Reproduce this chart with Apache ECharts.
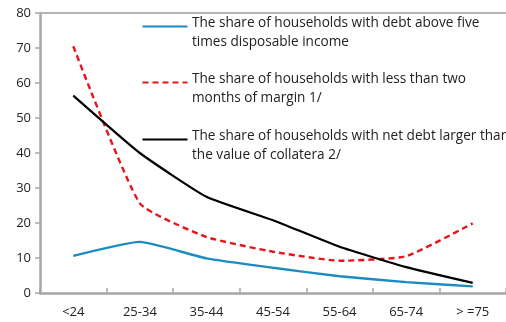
<!DOCTYPE html>
<html>
<head>
<meta charset="utf-8">
<script src="https://cdn.jsdelivr.net/npm/echarts@6/dist/echarts.min.js"></script>
<style>html,body{margin:0;padding:0;background:#fff;}#c{width:506px;height:322px;}</style>
</head>
<body>
<div id="c"></div>
<script>
// Age groups of the household head
const ageGroups = ['<24', '25-34', '35-44', '45-54', '55-64', '65-74', '> =75'];
// Shares of households, per cent
const debtOverFiveTimesIncome = [10.6, 14.6, 9.9, 7.2, 4.8, 3.1, 1.9];
const lessThanTwoMonthsMargin = [70.5, 25.6, 16.0, 11.8, 9.2, 10.5, 19.9];
const netDebtOverCollateral = [56.4, 40.0, 27.5, 20.8, 13.2, 7.4, 2.9];
const yTicks = [0, 10, 20, 30, 40, 50, 60, 70, 80];

const legendText = [
  'The share of households with debt above five\ntimes disposable income',
  'The share of households with less than two\nmonths of margin 1/',
  'The share of households with net debt larger than\nthe value of collatera 2/'
];
const colors = ['#1b8bc0', '#e8131b', '#000000'];
const font = '"Open Sans", "Noto Sans", sans-serif';
const axisGrey = '#a6a6a6';
const yMax = yTicks[yTicks.length - 1];

const chart = echarts.init(document.getElementById('c'));

function legendItem(i, y) {
  return [
    { type: 'line', left: 140, top: y, shape: { x1: 0, y1: 0, x2: 45, y2: 0 },
      style: { stroke: colors[i], lineWidth: 2.2, lineDash: i === 1 ? [6, 4] : null } },
    { type: 'text', left: 192, top: y - 10,
      style: { text: legendText[i], font: '13.6px ' + font, fill: '#222', lineHeight: 19 } }
  ];
}

chart.setOption({
  animation: false,
  grid: { left: 40, top: 13, right: -5, bottom: 29 },
  xAxis: {
    type: 'category', data: ageGroups, boundaryGap: true,
    axisLine: { show: true, lineStyle: { color: axisGrey, width: 2.5 } },
    axisTick: { show: true, inside: true, length: 5, lineStyle: { color: axisGrey, width: 1.5 } },
    axisLabel: { color: '#222', fontSize: 13, fontFamily: font, margin: 13 }
  },
  yAxis: {
    type: 'value', min: yTicks[0], max: yMax, interval: 10,
    axisLine: { show: true, onZero: false, lineStyle: { color: axisGrey, width: 2.5 } },
    axisTick: { show: true, length: 5, lineStyle: { color: axisGrey, width: 1.5 } },
    splitLine: { show: false },
    axisLabel: { color: '#222', fontSize: 13, fontFamily: font, margin: 9 }
  },
  graphic: [
    // frame line along the top of the plot area
    { type: 'rect', left: 39, top: 12, z: 100,
      shape: { x: 0, y: 0, width: 480, height: 2 }, style: { fill: '#b4b4b4' } },
    ...legendItem(0, 24),
    ...legendItem(1, 80),
    ...legendItem(2, 137)
  ],
  series: [
    { type: 'line', data: debtOverFiveTimesIncome, smooth: 0.15, symbol: 'none',
      lineStyle: { color: colors[0], width: 2.4 } },
    { type: 'line', data: lessThanTwoMonthsMargin, smooth: 0.15, symbol: 'none',
      lineStyle: { color: colors[1], width: 2.4, type: [6, 4] } },
    { type: 'line', data: netDebtOverCollateral, smooth: 0.15, symbol: 'none',
      lineStyle: { color: colors[2], width: 2.2 } }
  ]
});
</script>
</body>
</html>
